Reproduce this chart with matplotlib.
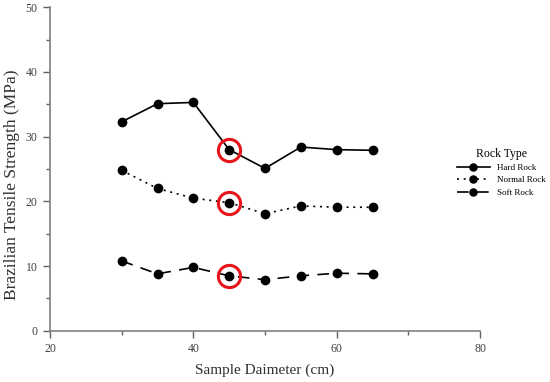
import matplotlib
matplotlib.use("Agg")
import matplotlib.pyplot as plt

diameter = [30, 35, 40, 45, 50, 55, 60, 65]
hard_rock = [32.3, 35.1, 35.3, 28.0, 25.1, 28.4, 28.0, 27.9]
normal_rock = [24.8, 22.0, 20.5, 19.8, 18.1, 19.3, 19.1, 19.1]
soft_rock = [10.8, 8.8, 9.8, 8.5, 7.9, 8.5, 8.9, 8.8]
highlight_x = 45
x_ticks = [20, 40, 60, 80]
y_ticks = [0, 10, 20, 30, 40, 50]

plt.rcParams['font.family'] = ['Liberation Serif', 'DejaVu Serif']

fig = plt.figure(figsize=(5.5, 3.82), dpi=100)
ax = fig.add_axes([50/550, 1 - 330.8/382, 430/550, (330.8 - 7.3)/382])

ms = 6
lw = 1.2
ax.plot(diameter, hard_rock, color='black', lw=lw, ls='-', marker='o', ms=ms, label='Hard Rock')
ax.plot(diameter, normal_rock, color='black', lw=lw, ls=(0, (1.2, 2.8)), marker='o', ms=ms, label='Normal Rock')
ax.plot(diameter, soft_rock, color='black', lw=lw, ls=(0, (7, 5)), marker='o', ms=ms, label='Soft Rock')

# red highlight circles
idx = diameter.index(highlight_x)
for series in (hard_rock, normal_rock, soft_rock):
    ax.plot([highlight_x], [series[idx]], marker='o', ms=16, mfc='none', mec='#e8141c', mew=2.2, ls='none')

ax.set_xlim(20, 80)
ax.set_ylim(0, 50)
ax.set_xticks(x_ticks)
ax.set_yticks(y_ticks)
ax.set_xticks([30, 50, 70], minor=True)
ax.set_yticks([5, 15, 25, 35, 45], minor=True)

for s in ('top', 'right'):
    ax.spines[s].set_visible(False)
for s in ('left', 'bottom'):
    ax.spines[s].set_color('#808080')
    ax.spines[s].set_linewidth(1.2)
ax.tick_params(which='both', direction='out', color='#606060', width=1, labelcolor='#404040', labelsize=8.5)
ax.tick_params(which='major', length=5, pad=4)
ax.tick_params(which='minor', length=3)

ax.set_xlabel('Sample Daimeter (cm)', fontsize=11, color='#303030', labelpad=6)
ax.set_ylabel('Brazilian Tensile Strength (MPa)', fontsize=12.5, color='#303030')
ax.yaxis.set_label_coords(-0.07, 0.45)

leg = fig.legend(*ax.get_legend_handles_labels(), loc='upper left',
                 bbox_to_anchor=(453/550, 1 - 144/382), bbox_transform=fig.transFigure,
                 borderaxespad=0, frameon=False,
                 title='Rock Type', fontsize=6.5, title_fontsize=8.5, handlelength=3.7,
                 handletextpad=0.8, labelspacing=0.45, markerscale=0.85)

fig.savefig('out.png', dpi=100)
